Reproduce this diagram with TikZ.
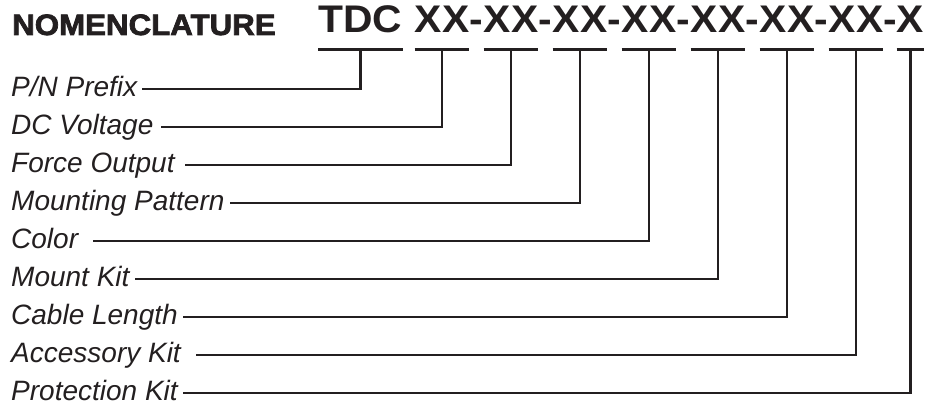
\documentclass[tikz,border=0pt]{standalone}
\usepackage{fontspec}
\setmainfont{Liberation Sans}
\newfontfamily\codefont[FakeStretch=1.06]{Liberation Sans}
\newfontfamily\headfont[FakeStretch=1.06,FakeBold=2.5]{Liberation Sans Bold}
\usetikzlibrary{calc}
\definecolor{ink}{HTML}{231F20}

\begin{document}
\begin{tikzpicture}[
		x=1pt, y=-1pt, color=ink,
		code/.style={inner sep=0pt, anchor=base, text depth=16.5pt, font=\codefont\bfseries\fontsize{38.5}{40}\selectfont},
		hyph/.style={inner sep=0pt, anchor=base, font=\codefont\bfseries\fontsize{38.5}{40}\selectfont},
		tag/.style={inner sep=0pt, anchor=west, text height=21pt, text depth=6.5pt, font=\fontsize{28}{30}\selectfont\itshape},
		bar/.style={line width=3.3pt},
		lead/.style={line width=2.7pt}
		]
		\useasboundingbox (0,0) rectangle (925,406);
		
		\node[inner sep=0pt, anchor=base west, font=\headfont\fontsize{29.5}{32}\selectfont] (title) at (12,35) {NOMENCLATURE};
		
		% part number segments
		\node[code] (cpre) at (360.5,33) {TDC};
		\node[code] (cvolt) at (442,33) {XX};
		\node[code] (cforce) at (511,33) {XX};
		\node[code] (cpat) at (580,33) {XX};
		\node[code] (ccol) at (649,33) {XX};
		\node[code] (ckit) at (718,33) {XX};
		\node[code] (ccab) at (787,33) {XX};
		\node[code] (cacc) at (856,33) {XX};
		\node[code] (cprot) at (910.5,33) {X};
		
		\foreach \a/\b [count=\i] in {cvolt/cforce, cforce/cpat, cpat/ccol, ccol/ckit, ckit/ccab, ccab/cacc, cacc/cprot}
			\node[hyph] (h\i) at ($(\a.base east)!.5!(\b.base west)$) {-};
		
		\foreach \s in {cpre, cvolt, cforce, cpat, ccol, ckit, ccab, cacc, cprot}
			\draw[bar] (\s.south west) -- (\s.south east);
		
		% labels
		\node[tag] (lpre) at (11,89) {P/N Prefix};
		\node[tag] (lvolt) at (11,127) {DC Voltage};
		\node[tag] (lforce) at (11,165) {Force Output};
		\node[tag] (lpat) at (11,203) {Mounting Pattern};
		\node[tag] (lcol) at (11,241) {Color};
		\node[tag] (lkit) at (11,279) {Mount Kit};
		\node[tag] (lcab) at (11,317) {Cable Length};
		\node[tag] (lacc) at (11,355) {Accessory Kit};
		\node[tag] (lprot) at (11,393) {Protection Kit};
		
		\draw[lead, shorten >=5pt] (cpre.south) |- (lpre.east);
		\draw[lead, shorten >=7pt] (cvolt.south) |- (lvolt.east);
		\draw[lead, shorten >=10pt] (cforce.south) |- (lforce.east);
		\draw[lead, shorten >=5pt] (cpat.south) |- (lpat.east);
		\draw[lead, shorten >=15pt] (ccol.south) |- (lcol.east);
		\draw[lead, shorten >=5pt] (ckit.south) |- (lkit.east);
		\draw[lead, shorten >=5pt] (ccab.south) |- (lcab.east);
		\draw[lead, shorten >=15pt] (cacc.south) |- (lacc.east);
		\draw[lead, shorten >=5pt] (cprot.south) |- (lprot.east);
		
	\end{tikzpicture}
\end{document}
